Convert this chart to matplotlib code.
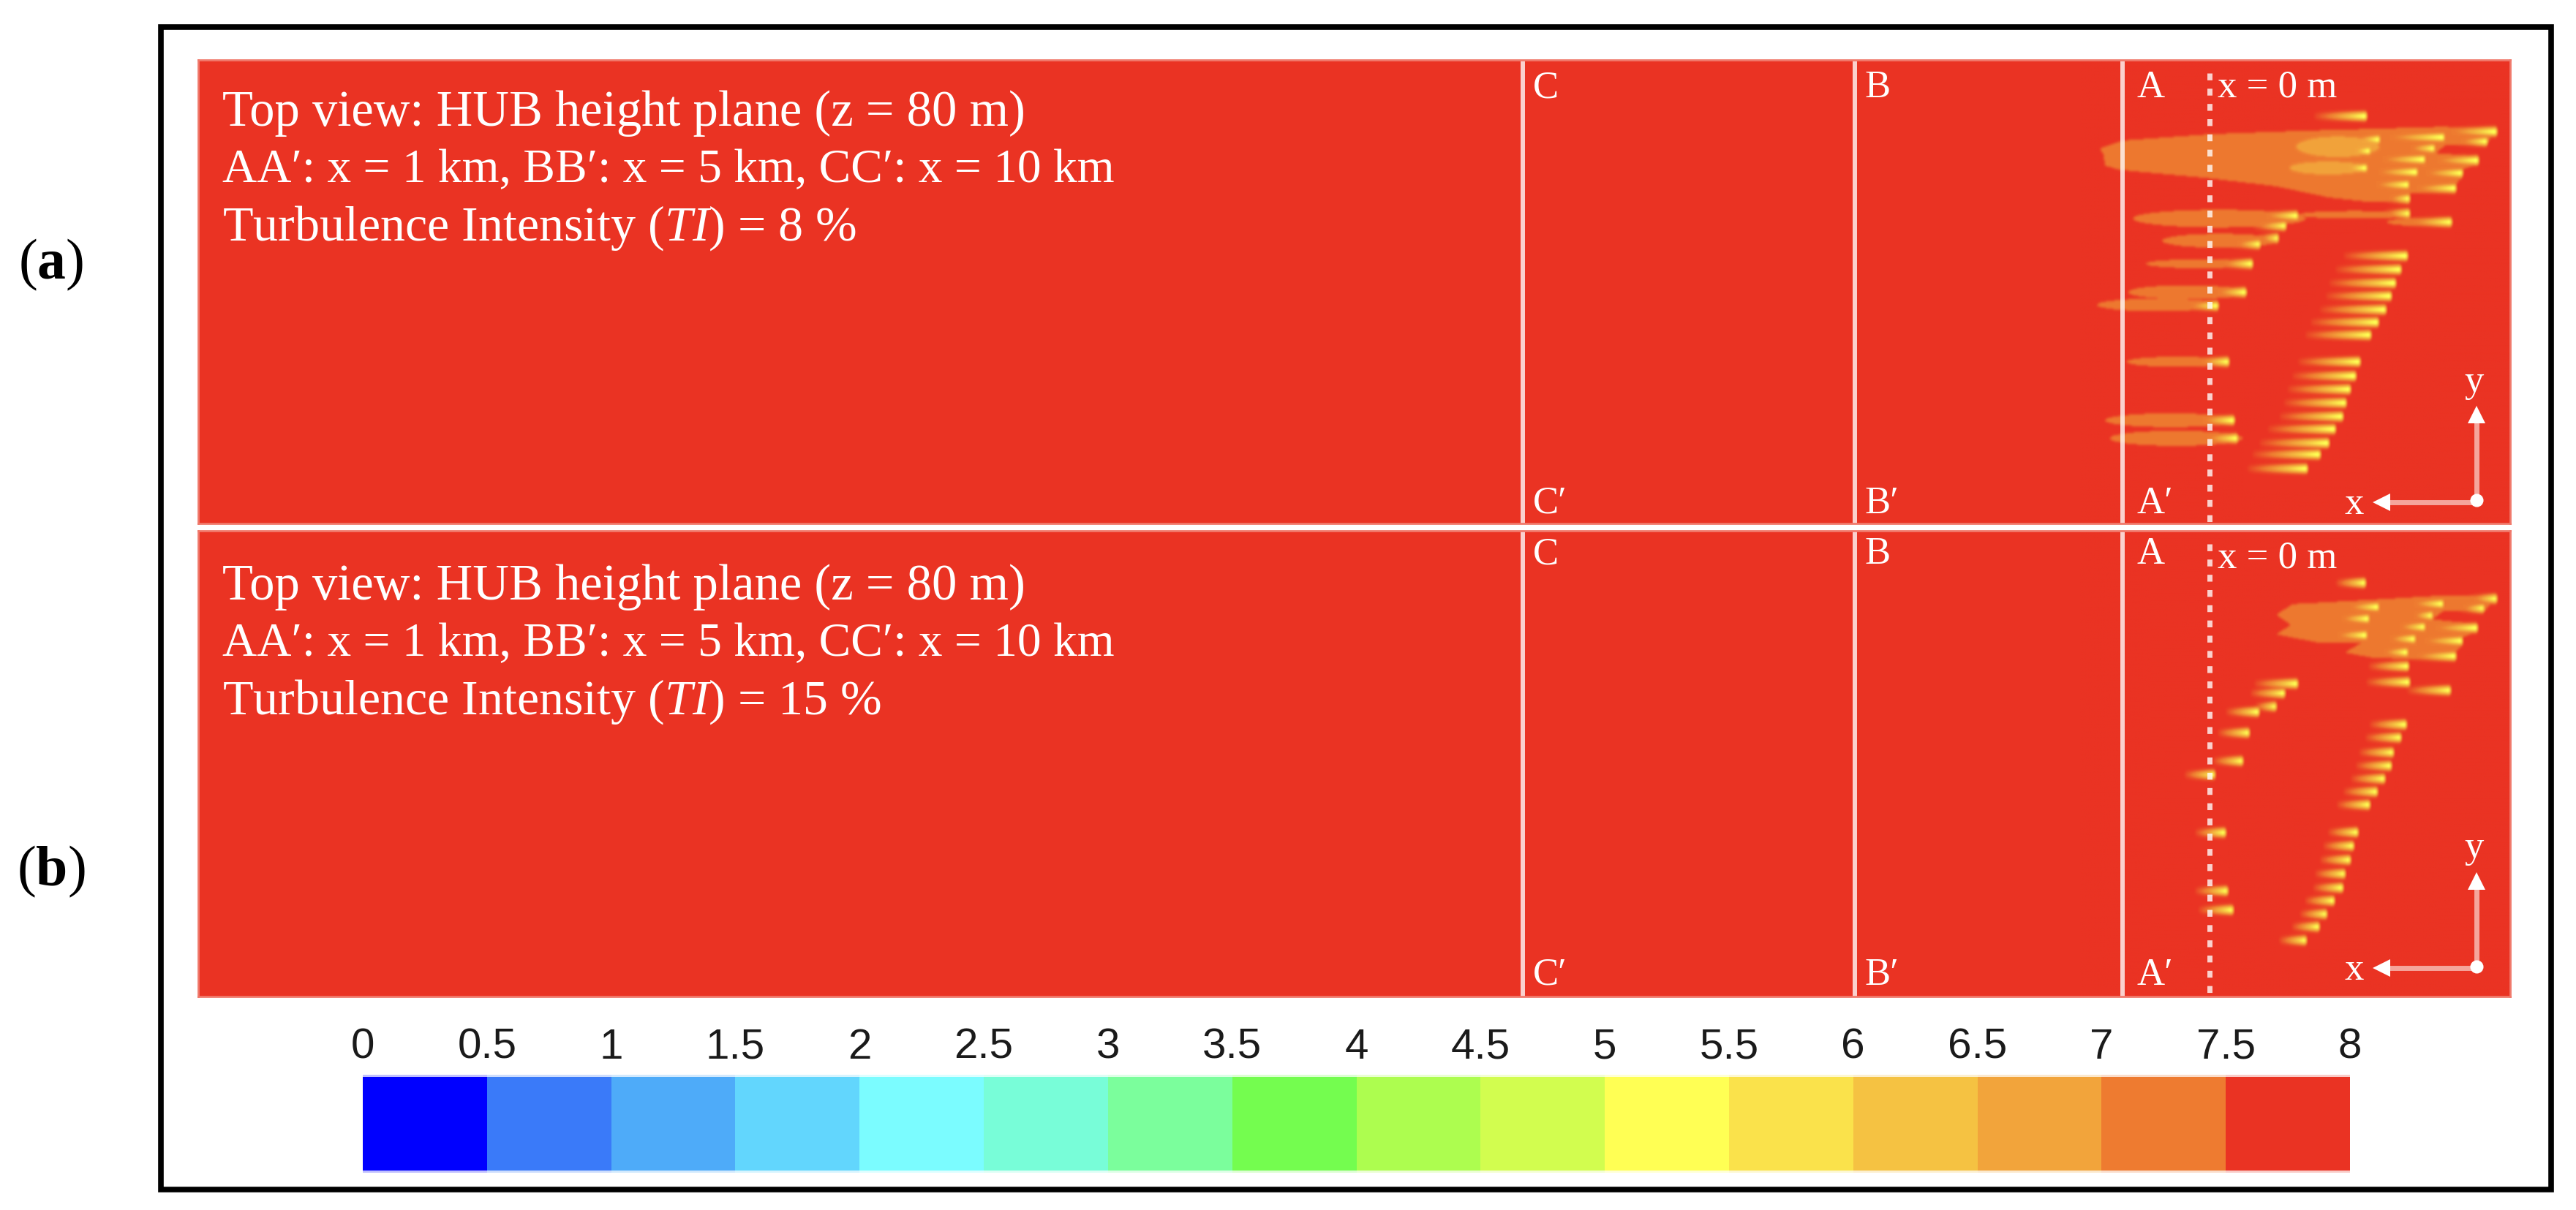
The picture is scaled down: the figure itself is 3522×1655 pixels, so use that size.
import numpy as np
import matplotlib
matplotlib.use("Agg")
import matplotlib.pyplot as plt
from matplotlib.colors import LinearSegmentedColormap, ListedColormap, BoundaryNorm
from matplotlib.patches import Rectangle
from matplotlib.path import Path

plt.rcParams["font.family"] = ["Liberation Serif", "DejaVu Serif"]
plt.rcParams["mathtext.fontset"] = "custom"
plt.rcParams["mathtext.rm"] = "Liberation Serif"
plt.rcParams["mathtext.it"] = "Liberation Serif:italic"
plt.rcParams["mathtext.bf"] = "Liberation Serif:bold"

W, H = 3522, 1656

# velocity bands of the colour bar
levels = np.arange(0, 8.5, 0.5)
level_labels = ["0", "0.5", "1", "1.5", "2", "2.5", "3", "3.5", "4", "4.5", "5",
                "5.5", "6", "6.5", "7", "7.5", "8"]
band_colors = ["#0000FF", "#3A7AF9", "#4EABF9", "#62D6FD", "#7BFCFF", "#78FDD8",
               "#7BFE9C", "#74FD4F", "#ADFD4F", "#D2FD4F", "#FFFF54", "#FAE24B",
               "#F5C242", "#F2A43B", "#EE7B30", "#EA3323"]

# wakes, panel a: turbine end, far end, row
a_head = [975, 1375, 1345, 1215, 1015, 1185, 985, 1318, 1155, 975, 1130, 1270, 1105, 1250,
          1108, 1108, 1238, 765, 730, 707, 650, 625, 605, 520, 555, 570, 580,
          1100, 1083, 1065, 1053, 1037, 1013, 990, 957, 942, 927, 915, 905, 880, 860, 833, 795]
a_tail = [815, 1200, 1250, 1000, 930, 1095, 910, 1160, 990, 885, 980, 1130, 980, 1100,
          1035, 1030, 1090, 645, 630, 645, 565, 520, 500, 415, 450, 450, 465,
          905, 880, 860, 850, 832, 803, 787, 765, 748, 733, 722, 708, 672, 647, 625, 610]
a_row = [228, 277, 308, 295, 302, 330, 338, 368, 365, 392, 405, 408, 445, 456,
         489, 536, 563, 543, 575, 614, 633, 695, 785, 828, 1005, 1190, 1247,
         670, 713, 756, 797, 840, 880, 920, 1005, 1050, 1092, 1135, 1178, 1218, 1262, 1298, 1343]

# wakes, panel b
b_head = [972, 1375, 1337, 1210, 1012, 1178, 982, 1315, 1155, 975, 1125, 1270, 1100, 1250,
          1105, 1108, 1235, 765, 725, 700, 645, 617, 597, 512, 543, 552, 568,
          1098, 1083, 1060, 1052, 1033, 1010, 985, 950, 937, 927, 911, 902, 876, 855, 830, 792]
b_tail = [882, 1290, 1260, 1100, 905, 1110, 880, 1155, 1060, 865, 1030, 1125, 1015, 1100,
          982, 975, 1100, 632, 620, 635, 545, 520, 505, 418, 450, 450, 460,
          985, 972, 953, 943, 928, 905, 885, 858, 843, 833, 818, 812, 787, 772, 747, 708]
b_row = [205, 255, 285, 271, 281, 308, 318, 347, 344, 370, 382, 388, 424, 436,
         468, 518, 544, 523, 553, 595, 612, 678, 767, 810, 993, 1177, 1237,
         652, 693, 740, 782, 823, 864, 905, 992, 1035, 1079, 1123, 1167, 1208, 1250, 1290, 1333]

# merged low speed zones
a_plume_x = [160, 230, 500, 760, 1000, 1200, 1375, 1345, 1220, 1190, 1320, 1315, 1275, 1270,
             1250, 1250, 1110, 1108, 960, 860, 700, 500, 220, 175, 170]
a_plume_y = [330, 305, 285, 275, 268, 262, 265, 318, 318, 345, 355, 382, 395, 420,
             445, 470, 470, 500, 497, 485, 450, 425, 398, 385, 350]
b_plume_x = [700, 750, 1000, 1205, 1375, 1340, 1210, 1180, 1315, 1315, 1270, 1270, 1250, 1250,
             1100, 1000, 910, 960, 820, 700, 745]
b_plume_y = [305, 272, 258, 245, 245, 295, 295, 320, 335, 358, 378, 398, 425, 445,
             445, 442, 425, 395, 392, 367, 338]

# single wider wakes, panel a: far end, near end, row, half height, speed
lens_tail = [260, 770, 1040, 350, 300, 245, 150, 240, 175, 190, 762, 740]
lens_head = [790, 1110, 1240, 705, 625, 610, 525, 555, 575, 597, 1015, 980]
lens_row = [552, 540, 563, 622, 695, 785, 825, 1005, 1190, 1247, 325, 392]
lens_half = [28, 12, 12, 22, 14, 22, 20, 16, 22, 24, 32, 20]
lens_speed = [7.25, 7.25, 7.25, 7.25, 7.25, 7.25, 7.25, 7.25, 7.25, 7.25, 6.75, 6.75]

section_x = [-1607, -591, 229]
section_names = ["C", "B", "A"]
section_label_px = [2096, 2549, 2922]

info_lines = ["Top view: HUB height plane (z = 80 m)",
              "AA\u2032: x = 1 km, BB\u2032: x = 5 km, CC\u2032: x = 10 km"]
info_sizes = [49.4, 47.2, 49]
ti_values = ["8", "15"]

smooth = LinearSegmentedColormap.from_list(
    "speed",
    list(zip([0] + [(i + 0.5) / 16 for i in range(16)] + [1],
             [band_colors[0]] + band_colors + [band_colors[-1]])),
    N=512)


def add_axes_px(x0, y0, x1, y1):
    return fig.add_axes([x0 / W, 1 - y1 / H, (x1 - x0) / W, (y1 - y0) / H])


def soften(field):
    # the source is an upscaled low res picture, so edges are a bit soft
    kernel = np.array([1, 2, 3, 2, 1]) / 9.0
    out = field - 7.75
    out = np.apply_along_axis(lambda c: np.convolve(c, kernel, mode="same"), 0, out)
    out = np.apply_along_axis(lambda c: np.convolve(c, kernel, mode="same"), 1, out)
    return out + 7.75


def speed_field(xx, yy, head, tail, row, plume_x, plume_y, lenses):
    field = np.full(xx.shape, 7.75)
    inside = Path(np.column_stack([plume_x, plume_y])).contains_points(
        np.column_stack([xx.ravel(), yy.ravel()])).reshape(xx.shape)
    field[inside] = 7.25
    for t0, h0, r, half, v in lenses:
        mid = (t0 + h0) / 2
        span = (h0 - t0) / 2
        blob = ((xx - mid) / span) ** 2 + ((yy - r) / half) ** 2 < 1
        field[blob] = np.minimum(field[blob], v)
    for h0, t0, r in zip(head, tail, row):
        s = np.clip((h0 - xx) / (h0 - t0), 0, 1)
        deficit = (2.4 * (1 - s) ** 2 + 0.7 * (1 - s) ** 0.5) * np.exp(-((yy - r) / 11.0) ** 2)
        deficit[xx > h0] = 0
        field = np.minimum(field, 7.75 - deficit)
    return soften(field)


def draw_panel(box, u_top, u_bot, head, tail, row, plume_x, plume_y, lenses, ti, dot_y, label_ys, text_y):
    ax = add_axes_px(*box)
    ax.set_facecolor(band_colors[-1])
    xs = np.arange(100, 1415, 3.3)
    ys = np.arange(u_top, u_bot, 3.45)
    xx, yy = np.meshgrid(xs, ys)
    field = speed_field(xx, yy, head, tail, row, plume_x, plume_y, lenses)
    ax.imshow(smooth(field / 8.0), extent=(xs[0], xs[-1], ys[-1], ys[0]), aspect="auto",
              interpolation="bilinear", zorder=1)
    ax.set_xlim(-5660, 1415)
    ax.set_ylim(u_bot, u_top)
    ax.set_xticks([])
    ax.set_yticks([])
    for sp in ax.spines.values():
        sp.set_color("#F07A6C")
        sp.set_linewidth(2)
    for sx in section_x:
        ax.axvline(sx, color="white", lw=4.3, alpha=0.78, zorder=2)
    ax.plot([495, 495], [u_top + 42, u_bot], color="white", lw=5, alpha=0.78, zorder=2,
            dashes=(1.35, 1.65), solid_capstyle="butt", dash_capstyle="butt")
    # axis triad
    ax.plot([1312, 1312], [dot_y, dot_y - 260], color="#F5A59C", lw=5, zorder=3)
    ax.plot([1312, 1030], [dot_y + 6, dot_y + 6], color="#F5A59C", lw=5, zorder=3)
    ax.plot([1312], [dot_y - 270], marker="^", ms=17, color="white", mew=0, zorder=4)
    ax.plot([1022], [dot_y + 6], marker="<", ms=17, color="white", mew=0, zorder=4)
    ax.plot([1312], [dot_y], marker="o", ms=13, color="white", mew=0, zorder=4)
    ax.text(1305, dot_y - 375, "y", color="white", fontsize=38, ha="center", va="center", zorder=5)
    ax.text(937, dot_y + 10, "x", color="white", fontsize=38, ha="center", va="center", zorder=5)
    ax.text(520, u_top + 85, "x = 0 m", color="white", fontsize=38, ha="left", va="center", zorder=5)

    top_px, bot_px = label_ys
    for name, px in zip(section_names, section_label_px):
        fig.text(px / W, 1 - top_px / H, name, color="white", fontsize=38, ha="left", va="center")
        fig.text(px / W, 1 - bot_px / H, name + "\u2032", color="white", fontsize=38,
                 ha="left", va="center")
    lines = info_lines + [r"Turbulence Intensity ($\mathit{TI}$) = " + ti + " %"]
    for k, line in enumerate(lines):
        fig.text(304 / W, 1 - (text_y + 78.5 * k) / H, line, color="white", fontsize=info_sizes[k],
                 ha="left", va="center")
    return ax


fig = plt.figure(figsize=(W / 100, H / 100), dpi=100, facecolor="white")

# outer frame
fig.add_artist(Rectangle((220 / W, 1 - 1628 / H), (3488 - 220) / W, (1628 - 38) / H,
                         transform=fig.transFigure, fill=False, edgecolor="black", linewidth=5.5))

a_lenses = list(zip(lens_tail, lens_head, lens_row, lens_half, lens_speed))
draw_panel((271, 83, 3432, 717), 52, 1515, a_head, a_tail, a_row, a_plume_x, a_plume_y,
           a_lenses, ti_values[0], 1442, (120, 689), 155)
draw_panel((271, 727, 3432, 1364), 40, 1508, b_head, b_tail, b_row, b_plume_x, b_plume_y,
           [], ti_values[1], 1413, (758, 1334), 803)

fig.text(70 / W, 1 - 362 / H, r"($\mathbf{a}$)", fontsize=56, color="black", ha="center", va="center")
fig.text(70 / W, 1 - 1192 / H, r"($\mathbf{b}$)", fontsize=56, color="black", ha="center", va="center")

# colour bar
cax = add_axes_px(496, 1471, 3213, 1605)
cmap = ListedColormap(band_colors)
norm = BoundaryNorm(levels, cmap.N)
cax.pcolormesh(levels, [0, 1], (levels[:-1] + 0.25).reshape(1, -1), cmap=cmap, norm=norm, alpha=0.25)
cax.pcolormesh(levels, [0.025, 0.975], (levels[:-1] + 0.25).reshape(1, -1), cmap=cmap, norm=norm)
cax.set_xlim(0, 8)
cax.set_ylim(0, 1)
cax.set_yticks([])
cax.xaxis.tick_top()
cax.set_xticks(levels)
cax.set_xticklabels(level_labels, family=["Liberation Sans"], fontsize=42, color="#1a1a1a")
cax.tick_params(axis="x", length=0, pad=8)
for sp in cax.spines.values():
    sp.set_visible(False)

fig.savefig("out.png", dpi=100)
